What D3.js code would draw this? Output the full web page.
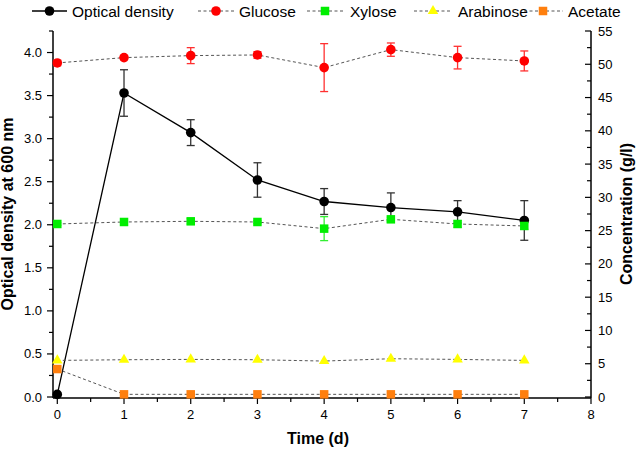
<!DOCTYPE html>
<html>
<head>
<meta charset="utf-8">
<script src="https://cdn.jsdelivr.net/npm/d3@7/dist/d3.min.js"></script>
<style>
  body { margin: 0; background: #fff; }
  svg { display: block; font-family: Arial, "Liberation Sans", sans-serif; }
</style>
</head>
<body>
<svg id="chart" width="638" height="450"></svg>
<script>
// ---- data ----
const days = [0, 1, 2, 3, 4, 5, 6, 7];
const odMean = [0.03, 3.53, 3.07, 2.52, 2.27, 2.20, 2.15, 2.05];
const odErr = [0, 0.27, 0.15, 0.20, 0.15, 0.17, 0.13, 0.23];
const glucose = [50.2, 51.0, 51.3, 51.4, 49.5, 52.2, 51.0, 50.5];
const glucoseErr = [0.4, 0.3, 1.2, 0.5, 3.6, 1.0, 1.7, 1.5];
const xylose = [26.0, 26.3, 26.4, 26.3, 25.3, 26.7, 26.0, 25.7];
const xyloseErr = [0.2, 0.2, 0.4, 0.2, 1.8, 0.3, 0.5, 0.5];
const arabinose = [5.5, 5.6, 5.65, 5.6, 5.4, 5.75, 5.65, 5.5];
const acetate = [4.2, 0.4, 0.4, 0.4, 0.4, 0.4, 0.4, 0.4];
const xTicks = [0, 1, 2, 3, 4, 5, 6, 7, 8];
const leftTicks = [0, 0.5, 1.0, 1.5, 2.0, 2.5, 3.0, 3.5, 4.0];
const rightTicks = [0, 5, 10, 15, 20, 25, 30, 35, 40, 45, 50, 55];
const legendLabels = ["Optical density", "Glucose", "Xylose", "Arabinose", "Acetate"];

const svg = d3.select("#chart");
const axisLeftX = 53, axisRightX = 591, axisBottomY = 398;

const x = d3.scaleLinear().domain([0, 8]).range([57.3, 591]);
const yL = d3.scaleLinear().domain([0, 4.25]).range([397, 31]);
const yR = d3.scaleLinear().domain([0, 55]).range([397, 31]);

// ---- axes ----
const gAx = svg.append("g").attr("stroke", "#000").attr("fill", "none");
gAx.append("line").attr("x1", axisLeftX).attr("x2", axisLeftX).attr("y1", yL(4.25)).attr("y2", axisBottomY).attr("stroke-width", 1.5);
gAx.append("line").attr("x1", axisRightX).attr("x2", axisRightX).attr("y1", yR(55)).attr("y2", axisBottomY).attr("stroke-width", 1.5);
gAx.append("line").attr("x1", axisLeftX).attr("x2", axisRightX).attr("y1", axisBottomY).attr("y2", axisBottomY).attr("stroke-width", 1.5);

// left ticks (outward)
const leftMinor = d3.range(0, 4.26, 0.25);
gAx.selectAll(".lt").data(leftMinor).join("line")
  .attr("x1", d => (Math.abs(d * 2 - Math.round(d * 2)) < 1e-6) ? axisLeftX - 6 : axisLeftX - 4)
  .attr("x2", axisLeftX).attr("y1", d => yL(d)).attr("y2", d => yL(d)).attr("stroke-width", 1.2);
svg.append("g").selectAll("text").data(leftTicks).join("text")
  .attr("x", axisLeftX - 11).attr("y", d => yL(d)).attr("dy", "0.35em")
  .attr("text-anchor", "end").attr("font-size", 13).attr("fill", "#000")
  .text(d => d3.format(".1f")(d));

// right ticks (inward)
const rightMinor = d3.range(0, 55.1, 2.5);
gAx.selectAll(".rt").data(rightMinor).join("line")
  .attr("x1", d => (d % 5 === 0) ? axisRightX - 6 : axisRightX - 4)
  .attr("x2", axisRightX).attr("y1", d => yR(d)).attr("y2", d => yR(d)).attr("stroke-width", 1.2);
svg.append("g").selectAll("text").data(rightTicks).join("text")
  .attr("x", axisRightX + 7).attr("y", d => yR(d)).attr("dy", "0.35em")
  .attr("text-anchor", "start").attr("font-size", 13).attr("fill", "#000")
  .text(d => d);

// bottom ticks (outward)
const bottomMinor = d3.range(0, 8.01, 0.5);
gAx.selectAll(".bt").data(bottomMinor).join("line")
  .attr("x1", d => x(d)).attr("x2", d => x(d))
  .attr("y1", axisBottomY)
  .attr("y2", d => (d % 1 === 0) ? axisBottomY + 6 : axisBottomY + 4).attr("stroke-width", 1.2);
svg.append("g").selectAll("text").data(xTicks).join("text")
  .attr("x", d => x(d)).attr("y", 419)
  .attr("text-anchor", "middle").attr("font-size", 13).attr("fill", "#000")
  .text(d => d);

// axis titles
svg.append("text").attr("x", 318).attr("y", 444).attr("text-anchor", "middle")
  .attr("font-size", 16).attr("font-weight", "bold").text("Time (d)");
svg.append("text").attr("transform", "translate(13,214) rotate(-90)").attr("text-anchor", "middle")
  .attr("font-size", 16).attr("font-weight", "bold").text("Optical density at 600 nm");
svg.append("text").attr("transform", "translate(632,214) rotate(-90)").attr("text-anchor", "middle")
  .attr("font-size", 16).attr("font-weight", "bold").text("Concentration (g/l)");

// ---- helpers ----
const dashed = "3,2.5";
function errBars(vals, errs, ys, color) {
  const g = svg.append("g").attr("stroke", color).attr("stroke-width", 1.3);
  days.forEach((d, i) => {
    if (errs[i] <= 0) return;
    const cx = x(d), t = ys(vals[i] + errs[i]), b = ys(vals[i] - errs[i]);
    g.append("line").attr("x1", cx).attr("x2", cx).attr("y1", t).attr("y2", b);
    g.append("line").attr("x1", cx - 4).attr("x2", cx + 4).attr("y1", t).attr("y2", t);
    g.append("line").attr("x1", cx - 4).attr("x2", cx + 4).attr("y1", b).attr("y2", b);
  });
}
function seriesLine(vals, ys, color, dash, w) {
  const line = d3.line().x((d, i) => x(days[i])).y(d => ys(d));
  svg.append("path").attr("d", line(vals)).attr("fill", "none")
    .attr("stroke", color).attr("stroke-width", w).attr("stroke-dasharray", dash);
}
const symCircle = d3.symbol().type(d3.symbolCircle).size(Math.PI * 4.8 * 4.8);
const symSquare = d3.symbol().type(d3.symbolSquare).size(8.5 * 8.5);
const symTri = d3.symbol().type(d3.symbolTriangle).size(48);
function markers(vals, ys, sym, color) {
  svg.append("g").selectAll("path").data(vals).join("path")
    .attr("d", sym).attr("fill", color)
    .attr("transform", (d, i) => `translate(${x(days[i])},${ys(d)})`);
}

// ---- Optical density ----
seriesLine(odMean, yL, "#000", null, 1.3);
errBars(odMean, odErr, yL, "#333");
markers(odMean, yL, symCircle, "#000");

// ---- Concentrations ----
seriesLine(glucose, yR, "#555", dashed, 1);
errBars(glucose, glucoseErr, yR, "#ff3030");
markers(glucose, yR, symCircle, "#ff0000");

seriesLine(xylose, yR, "#555", dashed, 1);
errBars(xylose, xyloseErr, yR, "#33ee33");
markers(xylose, yR, symSquare, "#00ee00");

seriesLine(arabinose, yR, "#555", dashed, 1);
markers(arabinose, yR, symTri, "#ffff00");

seriesLine(acetate, yR, "#555", dashed, 1);
markers(acetate, yR, symSquare, "#ff7f0e");

// ---- legend ----
const legY = 11;
const legendItems = [
  { x1: 32, x2: 67, mx: 49.5, tx: 72, sym: symCircle, color: "#000", dash: null, stroke: "#000", w: 1.3 },
  { x1: 198, x2: 234, mx: 216, tx: 239, sym: symCircle, color: "#ff0000", dash: dashed, stroke: "#555", w: 1 },
  { x1: 307, x2: 344, mx: 325, tx: 350, sym: symSquare, color: "#00ee00", dash: dashed, stroke: "#555", w: 1 },
  { x1: 414, x2: 452, mx: 433, tx: 458, sym: symTri, color: "#ffff00", dash: dashed, stroke: "#555", w: 1 },
  { x1: 524, x2: 563, mx: 543, tx: 568, sym: symSquare, color: "#ff7f0e", dash: dashed, stroke: "#555", w: 1 }
];
const lg = svg.append("g");
legendItems.forEach((it, i) => {
  lg.append("line").attr("x1", it.x1).attr("x2", it.x2).attr("y1", legY).attr("y2", legY)
    .attr("stroke", it.stroke).attr("stroke-width", it.w).attr("stroke-dasharray", it.dash);
  lg.append("path").attr("d", it.sym).attr("fill", it.color)
    .attr("transform", `translate(${it.mx},${legY})`);
  lg.append("text").attr("x", it.tx).attr("y", legY).attr("dy", "0.36em")
    .attr("font-size", 15.5).attr("fill", "#000").text(legendLabels[i]);
});
</script>
</body>
</html>
